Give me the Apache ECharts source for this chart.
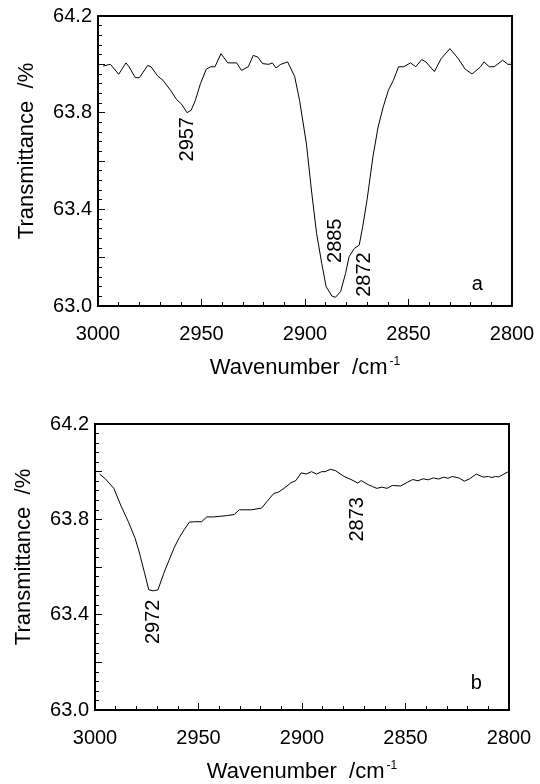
<!DOCTYPE html>
<html>
<head>
<meta charset="utf-8">
<script src="https://cdn.jsdelivr.net/npm/echarts@6/dist/echarts.min.js"></script>
<style>
html,body{margin:0;padding:0;background:#fff;}
#chart{width:540px;height:784px;}
</style>
</head>
<body>
<div id="chart"></div>
<script>
// Panel a: wavenumber (cm-1) and transmittance (%)
const wnA = [2997.5,2994,2990,2986.5,2985,2982,2980,2976,2974.4,2971,2968.6,2965,2962,2959.6,2957,2955,2953,2950.5,2947.7,2945.5,2943.5,2940.6,2937.3,2933,2930.7,2927.4,2925,2922.8,2920.5,2917.5,2915.8,2914,2911.7,2908.4,2905,2902.6,2899.3,2896.9,2894.4,2891.9,2889.8,2887,2885.3,2882.8,2880.4,2878.7,2876.2,2873.8,2872.1,2870,2867.2,2864.7,2862.2,2859.7,2857.3,2854.8,2852.3,2849,2846.5,2843.6,2841.6,2837.5,2834.2,2830,2826,2822.6,2819.3,2815.2,2813.5,2811,2808.6,2804.5,2802,2800.3];
const trA = [63.993,64.0,63.959,64.006,63.99,63.945,63.945,63.995,63.99,63.95,63.934,63.893,63.854,63.835,63.80,63.81,63.85,63.92,63.98,63.99,63.99,64.044,64.006,64.006,63.975,63.99,64.037,64.03,64.003,64.0,64.006,63.985,64.0,64.01,63.95,63.85,63.67,63.48,63.30,63.176,63.08,63.041,63.036,63.06,63.135,63.204,63.238,63.252,63.33,63.44,63.617,63.74,63.824,63.893,63.934,63.99,63.99,64.006,63.99,64.02,64.01,63.97,64.024,64.065,64.024,63.98,63.96,63.99,64.01,63.99,63.99,64.017,64.0,64.0];

// Panel b
const wnB = [2997.8,2995,2990.9,2987.6,2983.9,2980.6,2978.4,2976,2974,2971.8,2969.6,2966.8,2964.3,2961.8,2959.3,2956.8,2954.4,2951.9,2948.5,2946,2942.7,2936,2932.8,2930.3,2924.5,2919.5,2917,2913.7,2911.2,2908.7,2905.4,2902.9,2900.4,2898,2895.4,2893,2890.5,2888.8,2886.3,2883.8,2879.7,2876.3,2873,2871.4,2868,2866,2863.9,2861.4,2858.9,2856.4,2852.3,2849,2846.5,2844,2841.5,2839,2836.5,2834,2831.5,2829.5,2827.4,2824,2821.6,2819,2815.8,2812.4,2810,2808.3,2806.6,2805,2803.3,2800.3];
const trB = [63.99,63.97,63.93,63.86,63.79,63.72,63.655,63.573,63.504,63.50,63.504,63.573,63.627,63.68,63.723,63.758,63.788,63.79,63.79,63.81,63.81,63.816,63.82,63.84,63.84,63.847,63.874,63.908,63.915,63.93,63.953,63.963,63.995,63.99,64.0,63.99,64.0,64.0,64.01,64.004,63.98,63.967,63.952,63.963,63.945,63.938,63.93,63.935,63.93,63.942,63.94,63.956,63.967,63.962,63.97,63.966,63.974,63.969,63.977,63.972,63.98,63.973,63.96,63.97,63.99,63.977,63.98,63.975,63.98,63.978,63.986,64.0];

// Peak annotations: [text, wavenumber, transmittance]
const notesA = [['2957',2957,63.69],['2885',2885.4,63.27],['2872',2871.5,63.13]];
const notesB = [['2972',2971.8,63.37],['2873',2873,63.80]];
const panelTags = [['a',2816.8,63.09],['b',2815.8,63.11]];

const yTicks = ['63.0','63.4','63.8','64.2'];
const xName = 'Wavenumber  /cm{s|-1}';
const yName = 'Transmittance  /%';

const FONT = 'Liberation Sans';
const FS = 20;
const NFS = 22;

function zip(a,b){return a.map((v,i)=>[v,b[i]]);}

function xAxis(idx){
  return {
    type:'value', gridIndex:idx, inverse:true, min:2800, max:3000, interval:50,
    position:'bottom',
    axisLine:{show:true, onZero:false, lineStyle:{color:'#000', width:2}},
    axisTick:{show:true, inside:true, length:7, lineStyle:{color:'#000', width:1}},
    minorTick:{show:true, splitNumber:5, length:4, lineStyle:{color:'#000', width:1}},
    splitLine:{show:false},
    axisLabel:{color:'#000', fontFamily:FONT, fontSize:FS, margin:18,
      formatter:function(v){return String(Math.round(v));}},
    name:xName, nameLocation:'middle', nameGap:50,
    nameTextStyle:{color:'#000', fontFamily:FONT, fontSize:NFS,
      rich:{s:{fontSize:12, verticalAlign:'top', padding:[0,0,12,2], fontFamily:FONT, color:'#000'}}}
  };
}
function yAxis(idx){
  return {
    type:'value', gridIndex:idx, min:63.0, max:64.2, interval:0.2,
    axisLine:{show:true, onZero:false, lineStyle:{color:'#000', width:2}},
    axisTick:{show:true, inside:true, length:7, lineStyle:{color:'#000', width:1}},
    minorTick:{show:true, splitNumber:5, length:4, lineStyle:{color:'#000', width:1}},
    splitLine:{show:false},
    axisLabel:{color:'#000', fontFamily:FONT, fontSize:FS, margin:6,
      formatter:function(v){const s=v.toFixed(1); return yTicks.indexOf(s)>=0?s:'';}},
    name:yName, nameLocation:'middle', nameGap:60,
    nameTextStyle:{color:'#000', fontFamily:FONT, fontSize:NFS, padding:[0,0,0,20]}
  };
}
function notePoints(notes, rot){
  return notes.map(n=>({coord:[n[1],n[2]], value:n[0],
    label:{show:true, formatter:n[0], rotate:rot, position:'inside', align:'center', verticalAlign:'middle',
      color:'#000', fontFamily:FONT, fontSize:FS}}));
}
function series(idx, wn, tr, notes, tag){
  return {
    type:'line', xAxisIndex:idx, yAxisIndex:idx, data:zip(wn,tr), symbol:'none', silent:true,
    lineStyle:{color:'#000', width:1}, animation:false,
    markPoint:{symbol:'circle', symbolSize:0, animation:false,
      data: notePoints(notes,90).concat(notePoints([tag],0))}
  };
}

const chart = echarts.init(document.getElementById('chart'), null, {renderer:'canvas'});
chart.setOption({
  animation:false,
  backgroundColor:'#fff',
  grid:[
    {left:98, top:16, width:414, height:290, show:true, borderColor:'#000', borderWidth:2},
    {left:95, top:424, width:414, height:291, show:true, borderColor:'#000', borderWidth:2}
  ],
  xAxis:[xAxis(0), xAxis(1)],
  yAxis:[yAxis(0), yAxis(1)],
  series:[
    series(0, wnA, trA, notesA, panelTags[0]),
    series(1, wnB, trB, notesB, panelTags[1])
  ]
});
</script>
</body>
</html>
